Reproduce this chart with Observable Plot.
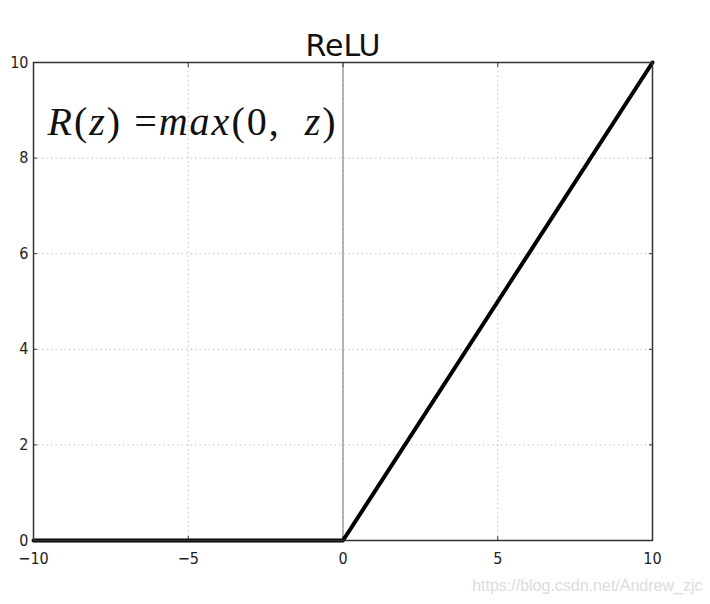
<!DOCTYPE html>
<html>
<head>
<meta charset="utf-8">
<script src="https://cdn.jsdelivr.net/npm/d3@7"></script>
<script src="https://cdn.jsdelivr.net/npm/@observablehq/plot@0.6"></script>
<style>
body { margin: 0; background: #fff; }
</style>
</head>
<body>
<div id="chart"></div>
<script>
const zValues = [-10, 0, 10];
const reluValues = [0, 0, 10];
const xTicks = [-10, -5, 0, 5, 10];
const yTicks = [0, 2, 4, 6, 8, 10];
const gridX = [-5, 0, 5];
const gridY = [2, 4, 6, 8];
const titleText = "ReLU";
const formulaText = "R(z) =max(0,  z)";
const watermarkText = "https://blog.csdn.net/Andrew_zjc";

const data = zValues.map((z, i) => ({z, r: reluValues[i]}));
const tickFont = "DejaVu Sans Condensed, DejaVu Sans";

const chart = Plot.plot({
  width: 710,
  height: 604,
  marginLeft: 33,
  marginRight: 58,
  marginTop: 62,
  marginBottom: 64,
  style: {fontFamily: tickFont, fontSize: "16px", color: "#222", background: "#fff"},
  x: {domain: [-10, 10]},
  y: {domain: [0, 10]},
  marks: [
    Plot.gridX(gridX, {stroke: "#999", strokeOpacity: 0.6, strokeDasharray: "1.5,3", strokeWidth: 1}),
    Plot.gridY(gridY, {stroke: "#999", strokeOpacity: 0.6, strokeDasharray: "1.5,3", strokeWidth: 1}),
    Plot.ruleX([0], {stroke: "#888", strokeWidth: 1.2}),
    Plot.axisX(xTicks, {tickSize: -4, tickPadding: 16, label: null, tickFormat: d => d < 0 ? "\u2212" + Math.abs(d) : String(d), stroke: "#333", fill: "#222", fontSize: 16, fontFamily: tickFont}),
    Plot.axisY(yTicks, {tickSize: -4, tickPadding: 9, stroke: "#333", fill: "#222", label: null, fontSize: 16, fontFamily: tickFont}),
    Plot.axisY(yTicks, {anchor: "right", tickSize: -4, tickFormat: () => "", label: null, stroke: "#333"}),
    Plot.axisX(xTicks, {anchor: "top", tickSize: -4, tickFormat: () => "", label: null, stroke: "#333"}),
    Plot.line(data, {x: "z", y: "r", stroke: "#000", strokeWidth: 4}),
    Plot.frame({stroke: "#333", strokeWidth: 1.5}),
    Plot.text([titleText], {frameAnchor: "top", dy: -7, text: d => d, fontSize: 30, fill: "#111", fontFamily: "DejaVu Sans", lineAnchor: "bottom"}),
    Plot.text([formulaText], {frameAnchor: "top-left", dx: 14, dy: 72, text: d => d, fontSize: 40, fill: "#111", textAnchor: "start", lineAnchor: "bottom", className: "formula", fontFamily: "Liberation Serif"}),
    Plot.text([watermarkText], {frameAnchor: "bottom-right", dx: 50, dy: 50, text: d => d, fontSize: 16, fill: "#dcdcdc", textAnchor: "end", fontFamily: "Liberation Sans Narrow, Liberation Sans", lineAnchor: "bottom"})
  ]
});

document.getElementById("chart").append(chart);

// Style formula as math: italic letters, upright digits/punctuation
const ft = d3.select(chart).select(".formula text");
if (!ft.empty()) {
  const parts = [["R", true], ["(", false], ["z", true], [")", false], [" =", false], ["max", true], ["(0,  ", false], ["z", true], [")", false]];
  ft.text(null);
  parts.forEach(([s, it]) => ft.append("tspan").attr("font-style", it ? "italic" : "normal").text(s));
  ft.attr("style", "white-space: pre; letter-spacing: 2px");
}
</script>
</body>
</html>
